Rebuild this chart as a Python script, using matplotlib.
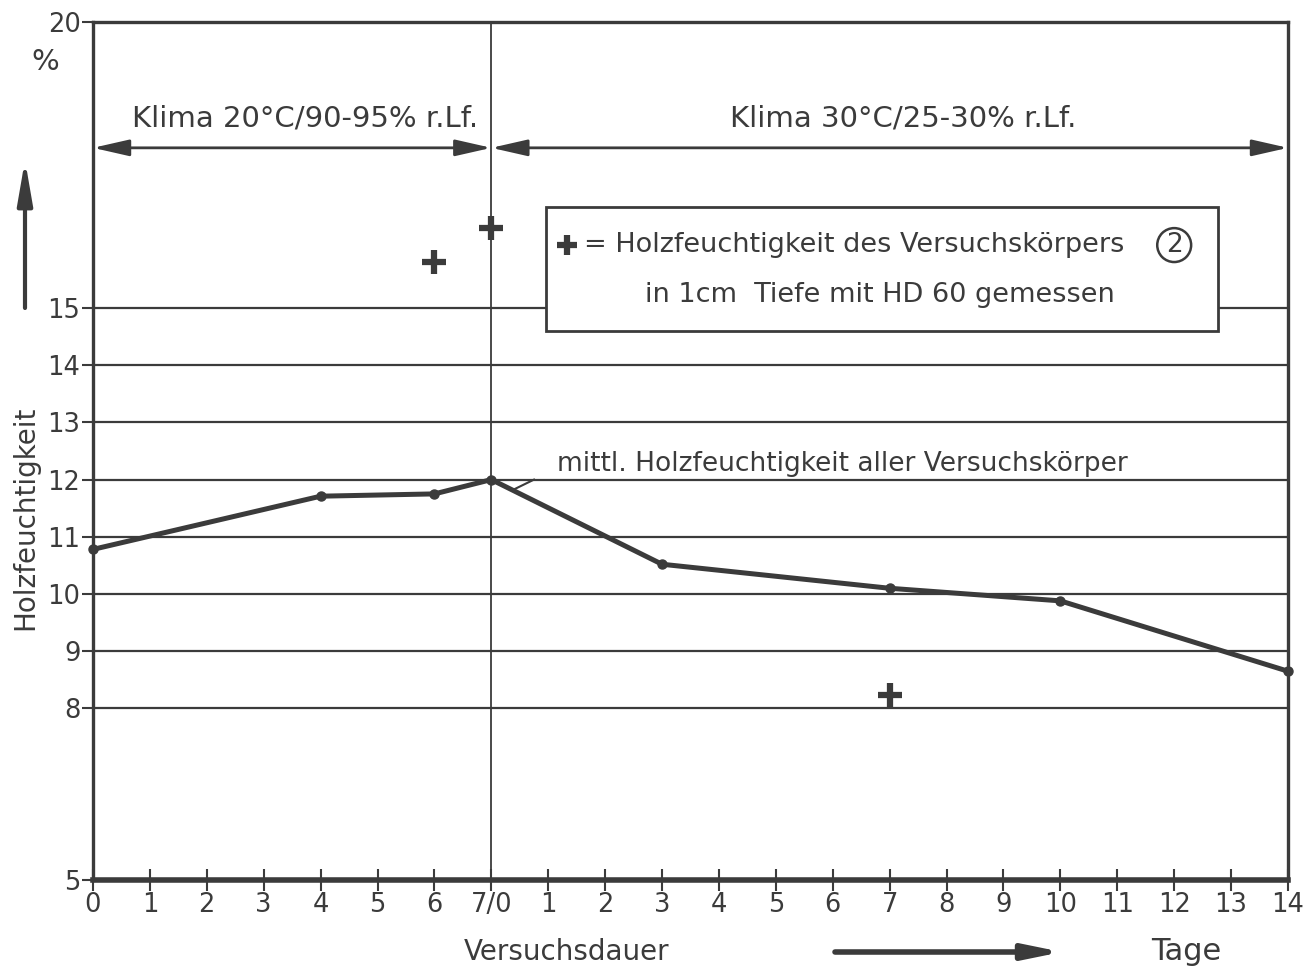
import matplotlib
matplotlib.use('Agg')
import matplotlib.pyplot as plt
from matplotlib.patches import Rectangle

plt.rcParams['font.family'] = ['DejaVu Sans']

ink = '#3b3b3b'

# x positions run 0..21: 7 days climate 1, then 14 days climate 2
tick_labels = ['0', '1', '2', '3', '4', '5', '6', '7/0', '1', '2', '3', '4', '5',
               '6', '7', '8', '9', '10', '11', '12', '13', '14']
y_ticks = [5, 8, 9, 10, 11, 12, 13, 14, 15, 20]

# mean moisture of all specimens
mean_x = [0, 4, 6, 7, 10, 14, 17, 21]
mean_y = [10.78, 11.71, 11.75, 12.0, 10.52, 10.10, 9.88, 8.65]

# specimen 2, measured with HD 60
spec_x = [6, 7, 14]
spec_y = [15.8, 16.4, 8.23]

fig = plt.figure(figsize=(13.14, 9.69), dpi=100)
ax = fig.add_axes([93 / 1314, 89 / 969, 1195 / 1314, 858 / 969])

ax.set_xlim(0, 21)
ax.set_ylim(5, 20)
ax.set_xticks(range(len(tick_labels)))
ax.set_xticklabels(tick_labels)
ax.set_yticks(y_ticks)
ax.tick_params(axis='x', direction='inout', length=16, width=1.5, color=ink,
               labelsize=18.5, labelcolor=ink, pad=1)
ax.tick_params(axis='y', direction='out', length=8, width=1.5, color=ink,
               labelsize=18.5, labelcolor=ink, pad=1)
ax.grid(axis='y', color=ink, lw=1.6)
ax.axvline(7, color=ink, lw=1.3)

for side in ['left', 'top', 'right']:
    ax.spines[side].set_color(ink)
    ax.spines[side].set_linewidth(2.4)
ax.spines['bottom'].set_color(ink)
ax.spines['bottom'].set_linewidth(4)

# climate headers
head = '<|-|>,head_length=2.2,head_width=0.5'
ax.annotate('', xy=(0, 17.8), xytext=(7, 17.8),
            arrowprops=dict(arrowstyle=head, color=ink, lw=2,
                            shrinkA=0, shrinkB=0))
ax.annotate('', xy=(7, 17.8), xytext=(21, 17.8),
            arrowprops=dict(arrowstyle=head, color=ink, lw=2,
                            shrinkA=0, shrinkB=0))
ax.text(3.73, 18.32, 'Klima 20°C/90-95% r.Lf.', ha='center', va='center',
        fontsize=21, color=ink)
ax.text(14.24, 18.32, 'Klima 30°C/25-30% r.Lf.', ha='center', va='center',
        fontsize=21, color=ink)

# data
ax.plot(mean_x, mean_y, color=ink, lw=3.6, marker='o', ms=6.5, zorder=4,
        clip_on=False)
ax.plot(spec_x, spec_y, ls='none', marker='+', ms=17, mew=4.5, color=ink,
        zorder=4)

# legend box
ax.add_patch(Rectangle((7.96, 14.6), 19.77 - 7.96, 16.77 - 14.6,
                       facecolor='white', edgecolor=ink, lw=2, zorder=3))
ax.plot([8.33], [16.1], ls='none', marker='+', ms=15, mew=4.5, color=ink,
        zorder=5)
ax.text(8.62, 16.1, '= Holzfeuchtigkeit des Versuchskörpers', ha='left',
        va='center', fontsize=19.5, color=ink, zorder=5)
ax.text(19.0, 16.1, '2', ha='center', va='center', fontsize=19, color=ink,
        zorder=5, bbox=dict(boxstyle='circle,pad=0.15', fc='white', ec=ink,
                            lw=1.8))
ax.text(13.82, 15.23, 'in 1cm  Tiefe mit HD 60 gemessen', ha='center',
        va='center', fontsize=19.5, color=ink, zorder=5)

# mean line label
ax.text(8.15, 12.04, 'mittl. Holzfeuchtigkeit aller Versuchskörper', ha='left',
        va='bottom', fontsize=19, color=ink, zorder=5)
ax.plot([7.38, 7.75], [11.82, 12.0], color=ink, lw=1.5, zorder=5)

# axis labels and arrows
fig.text(25 / 1314, 1 - 518 / 969, 'Holzfeuchtigkeit', rotation=90,
         ha='center', va='center', fontsize=20, color=ink)
fig.text(45 / 1314, 1 - 62 / 969, '%', ha='center', va='center', fontsize=21,
         color=ink)
fig.text(567 / 1314, 1 - 952 / 969, 'Versuchsdauer', ha='center',
         va='center', fontsize=20, color=ink)
fig.text(1186 / 1314, 1 - 952 / 969, 'Tage', ha='center', va='center',
         fontsize=22, color=ink)
ax.annotate('', xy=(25 / 1314, 1 - 160 / 969), xytext=(25 / 1314, 1 - 308 / 969),
            xycoords='figure fraction', textcoords='figure fraction',
            arrowprops=dict(arrowstyle='-|>,head_length=2.6,head_width=0.45',
                            color=ink, lw=3, shrinkA=0, shrinkB=0))
ax.annotate('', xy=(1062 / 1314, 1 - 952 / 969), xytext=(835 / 1314, 1 - 952 / 969),
            xycoords='figure fraction', textcoords='figure fraction',
            arrowprops=dict(arrowstyle='-|>,head_length=2.2,head_width=0.45',
                            color=ink, lw=4, shrinkA=0, shrinkB=0))

fig.savefig('out.png', dpi=100)
